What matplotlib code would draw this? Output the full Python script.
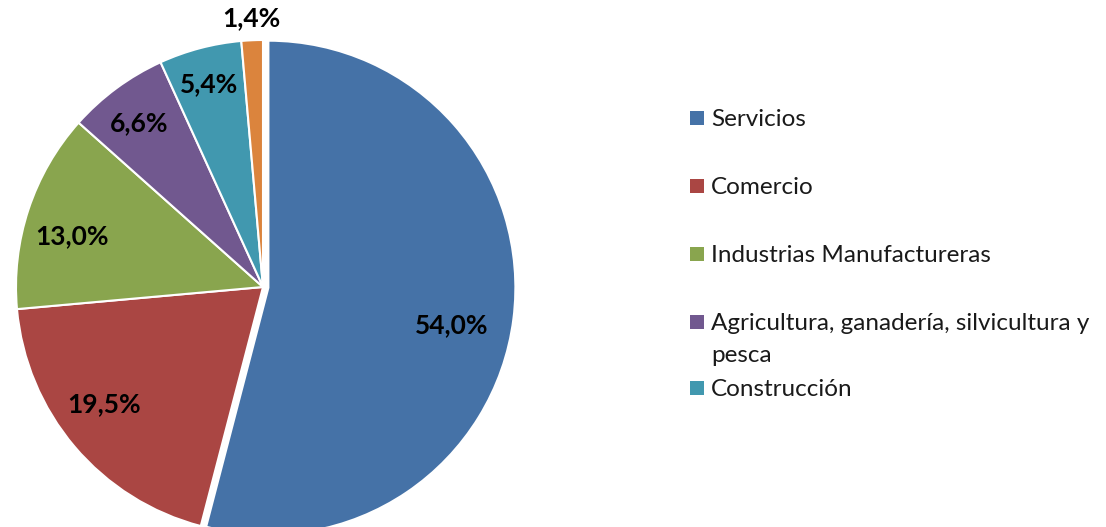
import numpy as np
import matplotlib
matplotlib.use('Agg')
import matplotlib.pyplot as plt
from matplotlib.patches import Rectangle

# Sector shares (%)
labels = ['Servicios', 'Comercio', 'Industrias Manufactureras',
          'Agricultura, ganadería, silvicultura y\npesca', 'Construcción', 'Otros']
values = [54.0, 19.5, 13.0, 6.6, 5.4, 1.4]
pct_text = ['54,0%', '19,5%', '13,0%', '6,6%', '5,4%', '1,4%']
colors = ['#4572A7', '#AA4643', '#89A54E', '#71588F', '#4198AF', '#DB843D']
legend_count = 5  # the last entry is cut off in the original legend

plt.rcParams['font.family'] = ['Lato', 'DejaVu Sans']

W, H = 1106, 527
fig = plt.figure(figsize=(W / 100, H / 100), dpi=100)

# pie centre and radius in pixels
cx, cy, r = 263, 287, 247
ax = fig.add_axes([(cx - r) / W, (H - cy - r) / H, 2 * r / W, 2 * r / H])

explode = [0.022, 0, 0, 0, 0, 0]
wedges, _ = ax.pie(values, colors=colors, startangle=90, counterclock=False,
                   explode=explode, radius=1, normalize=True,
                   wedgeprops=dict(edgecolor='white', linewidth=1.5, clip_on=False))
ax.set_xlim(-1, 1)
ax.set_ylim(-1, 1)
ax.axis('off')

# label placement: distance (fraction of radius) and angle offset from slice middle
label_dist = [0.78, 0.80, 0.80, 0.83, 0.85, 1.09]
label_dang = [-4.2, -3.9, 3.3, 0.7, 0.0, 0.0]
for w, txt, d, da in zip(wedges, pct_text, label_dist, label_dang):
    mid = np.deg2rad((w.theta1 + w.theta2) / 2 + da)
    ax.text(d * np.cos(mid), d * np.sin(mid), txt, ha='center', va='center',
            fontsize=19, fontweight='bold', color='black', clip_on=False)

# legend drawn by hand to match the spacing of the original
y = 118
line_h = 32
for lab, col in zip(labels[:legend_count], colors[:legend_count]):
    fig.patches.append(Rectangle((690 / W, (H - y - 7) / H), 14 / W, 14 / H,
                                 transform=fig.transFigure, facecolor=col,
                                 edgecolor='none'))
    for k, line in enumerate(lab.split('\n')):
        fig.text(711 / W, (H - y - k * line_h) / H, line, ha='left', va='center_baseline',
                 fontsize=17.5, color='#1a1a1a')
    nlines = lab.count('\n') + 1
    y += 68 if nlines == 1 else line_h + 34

fig.savefig('out.png', dpi=100)
